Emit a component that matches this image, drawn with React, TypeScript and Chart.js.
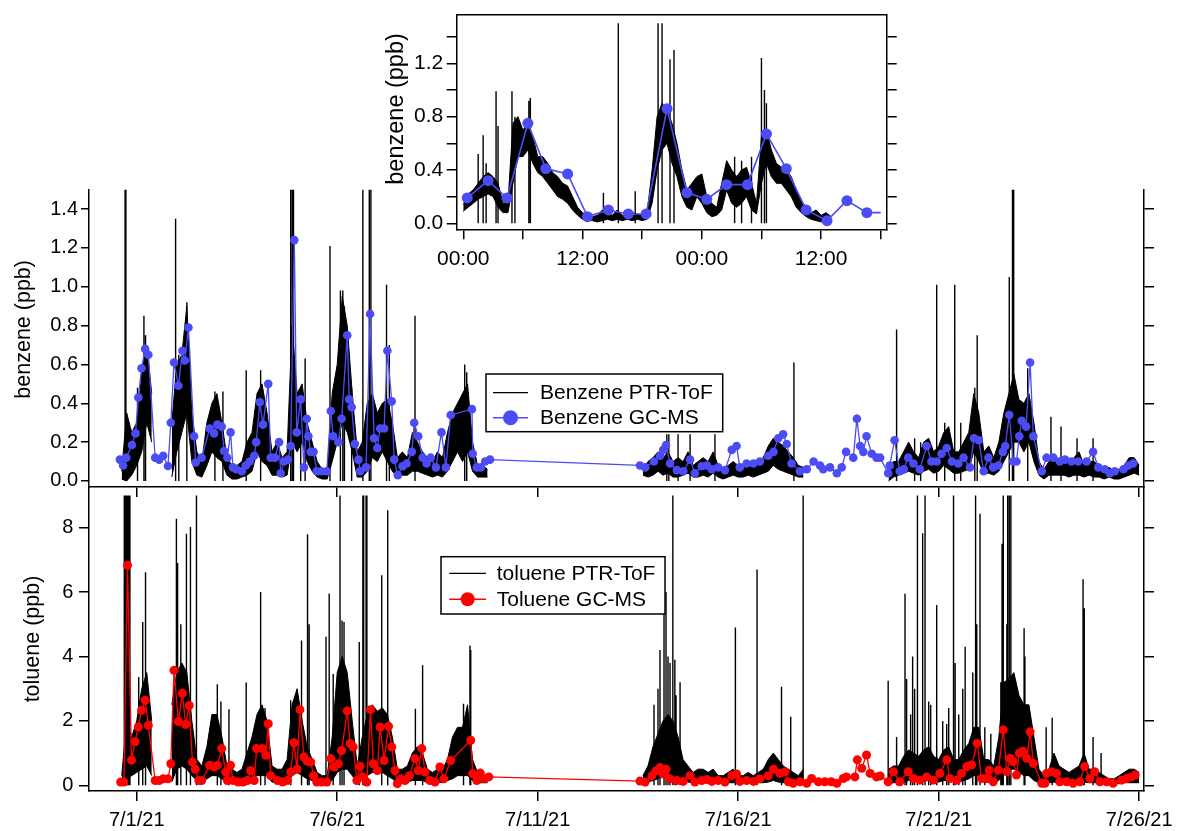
import React, { useEffect, useRef } from 'react';
import { Chart, registerables } from 'chart.js';

Chart.register(...registerables);

const FONT = '"Liberation Sans", Arial, Helvetica, sans-serif';

// ---------- axes / labels ----------
const dateTickDays = [0, 5, 10, 15, 20, 25];
const dateTickLabels = ['7/1/21', '7/6/21', '7/11/21', '7/16/21', '7/21/21', '7/26/21'];
const benzTicks = [0, 0.2, 0.4, 0.6, 0.8, 1.0, 1.2, 1.4];
const tolTicks = [0, 2, 4, 6, 8];
const insetYTicks = [0, 0.2, 0.4, 0.6, 0.8, 1.0, 1.2, 1.4];
const insetYLabelled = [0, 0.4, 0.8, 1.2];
const insetHourTicks = [0, 6, 12, 18, 24, 30, 36, 42];
const insetHourLabelAt = [0, 12, 24, 36];
const insetHourLabelText = ['00:00', '12:00', '00:00', '12:00'];

const benzTitle = 'benzene (ppb)';
const tolTitle = 'toluene (ppb)';
const benzLegend = ['Benzene PTR-ToF', 'Benzene GC-MS'];
const tolLegend = ['toluene PTR-ToF', 'Toluene GC-MS'];

// ---------- PTR-ToF envelopes (3 h bins, days since 7/1/21 00:00) ----------
const PTR_STEP = 0.125;
const SEG_A_START = -0.375;
const SEG_B_START = 12.625;

const benzLowA = [0.01,0,0.03,0.08,0.15,0.3,0.2,null,null,null,
  0.02,0.15,0.25,0.35,0.1,0.03,0.02,0.08,0.15,0.12,
  0.1,0.03,0.01,0.01,0.02,0.03,0.05,0.15,0.1,0.08,
  0.03,0.03,0.02,0.03,0.2,0.15,0.2,0.1,0.05,0.02,
  0.01,0.01,0.1,0.2,0.3,0.25,0.15,0.02,0.02,0.05,
  0.12,0.1,0.15,0.1,0.05,0.02,0.03,0.03,0.05,0.05,
  0.04,0.03,0.02,0.03,0.02,0.05,0.1,0.15,0.1,0.15,
  0.05,0.02,0.02,0.02];
const benzHighA = [0.05,0.35,0.25,0.3,0.55,0.7,0.45,null,null,null,
  0.3,0.6,0.65,0.9,0.35,0.15,0.1,0.3,0.4,0.45,
  0.3,0.12,0.08,0.08,0.1,0.2,0.25,0.45,0.5,0.35,
  0.15,0.2,0.12,0.15,0.8,0.45,0.5,0.3,0.2,0.1,
  0.06,0.05,0.45,0.6,0.95,0.8,0.45,0.15,0.2,0.4,
  0.45,0.35,0.4,0.42,0.3,0.12,0.15,0.12,0.25,0.2,
  0.15,0.12,0.1,0.15,0.12,0.25,0.35,0.4,0.45,0.5,
  0.2,0.08,0.08,0.06];
const benzLowB = [0.03,0.02,0.03,0.05,0.03,0.04,0.02,0.02,0.03,0.04,
  0.02,0.02,0.03,0.02,0.04,0.02,0.01,0.02,0.03,0.02,
  0.02,0.03,0.02,0.03,0.04,0.05,0.08,0.06,0.05,0.04,
  0.03,0.02,0.02,
  null,null,null,null,null,null,null,null,null,null,null,null,null,null,null,null,
  0,0.02,0.03,0.04,0.05,0.04,0.03,0.05,0.06,0.04,
  0.05,0.08,0.06,0.04,0.04,0.05,0.06,0.15,0.1,0.04,
  0.04,0.03,0.05,0.1,0.15,0.2,0.2,0.15,0.2,0.1,
  0.03,0.01,0.03,0.03,0.03,0.03,0.02,0.03,0.03,0.02,
  0.03,0.02,0.02,0.01,0.02,0.01,0.01,0.02,0.03,0.04,0.03];
const benzHighB = [0.06,0.1,0.12,0.15,0.12,0.15,0.1,0.12,0.1,0.15,
  0.08,0.1,0.12,0.1,0.15,0.08,0.06,0.08,0.1,0.08,
  0.07,0.08,0.08,0.1,0.12,0.18,0.22,0.2,0.18,0.15,
  0.12,0.08,0.07,
  null,null,null,null,null,null,null,null,null,null,null,null,null,null,null,null,
  0.08,0.1,0.1,0.15,0.2,0.15,0.12,0.2,0.22,0.15,
  0.18,0.25,0.28,0.15,0.15,0.2,0.25,0.45,0.35,0.15,
  0.18,0.12,0.2,0.35,0.45,0.55,0.42,0.4,0.45,0.3,
  0.1,0.06,0.1,0.12,0.1,0.12,0.09,0.12,0.15,0.08,
  0.1,0.1,0.08,0.06,0.07,0.05,0.06,0.08,0.12,0.12,0.08];

const tolLowA = [0.1,0.2,0.3,0.4,0.5,0.6,0.3,null,null,null,
  0.1,0.5,0.6,0.5,0.3,0.15,0.1,0.2,0.3,0.3,
  0.2,0.1,0.08,0.08,0.1,0.15,0.2,0.3,0.3,0.3,
  0.1,0.08,0.08,0.1,0.3,0.4,0.3,0.2,0.15,0.08,
  0.08,0.08,0.15,0.4,0.5,0.5,0.3,0.1,0.15,0.3,
  0.4,0.4,0.4,0.3,0.2,0.08,0.08,0.1,0.15,0.15,
  0.15,0.08,0.08,0.1,0.08,0.15,0.2,0.3,0.3,0.3,
  0.15,0.08,0.08,0.08];
const tolHighA = [0.3,2.0,1.5,2.0,3.0,3.5,2.0,null,null,null,
  2.5,3.5,3.8,3.5,2.0,0.8,0.6,1.2,2.2,2.2,
  1.5,0.6,0.5,0.4,0.5,1.0,1.5,2.2,2.5,2.0,
  0.6,0.5,0.5,0.8,2.5,3.0,2.0,1.2,0.8,0.4,
  0.3,0.3,1.5,3.5,4.0,3.5,2.0,0.6,1.5,2.2,
  2.5,2.3,2.4,2.2,1.5,0.5,0.5,0.6,1.0,1.2,
  1.0,0.5,0.4,0.5,0.5,0.8,1.5,1.8,1.8,2.5,
  0.8,0.4,0.3,0.3];
const tolLowB = [0.1,0.1,0.15,0.2,0.3,0.4,0.3,0.2,0.15,0.1,
  0.08,0.08,0.08,0.08,0.08,0.08,0.05,0.08,0.08,0.08,
  0.05,0.08,0.08,0.08,0.08,0.1,0.15,0.1,0.08,0.08,
  0.05,0.05,0.05,
  null,null,null,null,null,null,null,null,null,null,null,null,null,null,null,null,
  0.05,0.08,0.08,0.1,0.15,0.15,0.1,0.15,0.15,0.1,
  0.1,0.15,0.15,0.1,0.1,0.15,0.2,0.3,0.3,0.1,
  0.1,0.08,0.15,0.4,0.5,0.5,0.4,0.3,0.3,0.15,
  0.08,0.05,0.08,0.1,0.08,0.08,0.08,0.08,0.08,0.1,
  0.08,0.08,0.08,0.05,0.05,0.05,0.05,0.08,0.08,0.08,0.08];
const tolHighB = [0.3,0.6,1.2,1.6,2.0,2.2,2.0,1.5,0.8,0.6,
  0.4,0.5,0.5,0.4,0.5,0.3,0.3,0.4,0.5,0.3,
  0.3,0.4,0.3,0.4,0.5,0.8,1.0,0.8,0.6,0.5,
  0.4,0.3,0.5,
  null,null,null,null,null,null,null,null,null,null,null,null,null,null,null,null,
  0.5,0.6,0.6,0.9,1.1,1.0,0.9,1.1,1.2,0.9,
  0.8,1.1,1.2,0.8,0.8,1.1,1.3,1.8,1.8,0.8,
  0.8,0.6,1.5,3.2,3.3,3.5,2.8,2.5,2.5,1.5,
  0.5,0.3,0.5,1.0,0.6,0.5,0.4,0.5,0.6,1.0,
  0.5,0.5,0.4,0.3,0.2,0.2,0.3,0.4,0.5,0.5,0.4];

// ---------- PTR-ToF spikes [day, peak] ----------
const benzSpikes = [[-0.29,1.5],[-0.27,1.5],[0.02,0.48],[0.18,0.85],[0.22,0.75],[0.97,1.35],[1.05,0.65],[1.25,0.92],
  [1.95,0.46],[2.15,0.46],[2.73,0.57],[3.09,0.57],[3.84,1.5],[3.88,1.5],[3.91,1.5],[4.09,0.48],[4.2,0.63],
  [4.82,1.21],[5.08,0.98],[5.14,0.98],[5.18,0.9],[5.36,0.48],[5.64,1.5],[5.8,1.5],[5.84,1.5],[6.23,1.01],
  [6.3,0.7],[6.94,0.85],[8.18,0.6],[8.23,0.56],
  [13.22,0.24],[13.27,0.24],[13.5,0.24],[13.8,0.24],[14.42,0.24],[16.39,0.61],[18.95,0.78],[19.4,0.22],
  [19.55,0.2],[19.95,1.01],[20.15,0.3],[20.4,1.01],[20.55,0.3],[20.9,0.48],[20.96,0.75],[21.76,1.05],
  [21.84,1.5],[21.87,1.5],[22.22,0.58],[22.8,0.33],[23.05,0.28],[23.45,0.22],[23.85,0.22]];
const tolSpikes = [[-0.31,9],[-0.29,9],[-0.27,9],[-0.25,9],[-0.23,9],[-0.21,9],[-0.19,9],[-0.17,9],
  [0.05,3.36],[0.15,5.07],[0.22,6.62],[0.99,8.28],[1.02,6.9],[1.1,5.0],[1.24,7.81],[1.34,8.02],[1.49,9],
  [2.01,3.14],[2.1,2.6],[2.3,2.36],[2.73,3.19],[3.09,6.0],[3.2,2.4],[3.84,2.64],[4.11,4.5],[4.26,7.8],
  [4.3,5.0],[4.72,4.61],[4.8,5.96],[4.9,3.46],[5.07,9],[5.12,5.12],[5.17,5.07],[5.55,4.45],[5.64,9],
  [5.66,9],[5.72,9],[5.74,9],[6.11,6.52],[6.26,8.54],[6.95,2.38],[7.13,3.73],[8.15,2.53],[8.31,4.34],[8.33,4.2],
  [12.9,2.5],[13.0,3.0],[13.05,4.2],[13.15,5.7],[13.2,6.0],[13.25,4.0],[13.3,3.8],[13.37,9],[13.42,3.9],
  [13.45,2.8],[13.55,3.2],[14.93,4.9],[15.47,6.7],[16.08,3.06],
  [16.31,2.13],[16.62,9],[18.74,3.25],[18.95,1.5],[19.16,5.95],[19.2,3.3],[19.3,2.2],[19.35,4.0],[19.4,3.0],
  [19.47,9],[19.6,7.83],[19.66,9],[19.75,2.6],[19.8,2.5],[19.95,5.6],[20.1,2.0],[20.2,1.9],[20.25,2.4],
  [20.37,9],[20.41,3.8],[20.5,2.2],[20.6,3.0],[20.66,4.3],[20.85,3.5],[20.92,9],[20.95,5.0],[21.03,8.43],
  [21.15,1.8],[21.3,1.6],[21.55,3.2],[21.58,7.5],[21.61,9],[21.7,5.0],[21.72,9],[21.76,9],[21.8,9],[22.13,4.88],
  [22.15,4.0],[22.68,1.8],[22.83,2.1],[23.6,6.4],[23.63,5.5],[23.85,1.5],[24.05,1.0]];

// ---------- GC-MS samples [day, ppb] ----------
const benzGc = [[-0.42,0.11],[-0.34,0.08],[-0.26,0.12],[-0.12,0.185],[-0.03,0.245],[0.04,0.43],[0.12,0.58],
  [0.21,0.68],[0.29,0.65],[0.46,0.12],[0.56,0.11],[0.66,0.13],[0.78,0.077],[0.85,0.3],[0.93,0.61],[1.04,0.49],
  [1.14,0.67],[1.2,0.62],[1.29,0.79],[1.43,0.23],[1.47,0.095],[1.62,0.12],[1.82,0.27],[1.93,0.245],[2.01,0.29],
  [2.12,0.28],[2.18,0.154],[2.26,0.12],[2.34,0.25],[2.4,0.07],[2.48,0.06],[2.62,0.05],[2.72,0.08],[2.82,0.1],
  [2.93,0.13],[2.98,0.2],[3.07,0.405],[3.15,0.29],[3.28,0.5],[3.34,0.12],[3.45,0.12],[3.55,0.2],[3.59,0.04],
  [3.67,0.1],[3.77,0.11],[3.84,0.18],[3.93,1.24],[3.99,0.25],[4.09,0.42],[4.17,0.07],[4.24,0.32],[4.28,0.23],
  [4.34,0.15],[4.41,0.15],[4.49,0.05],[4.61,0.05],[4.74,0.05],[4.84,0.36],[4.9,0.23],[5.03,0.2],[5.11,0.32],
  [5.25,0.75],[5.3,0.42],[5.36,0.38],[5.44,0.19],[5.53,0.11],[5.57,0.05],[5.72,0.07],[5.82,0.86],[5.92,0.22],
  [6.0,0.17],[6.07,0.27],[6.17,0.27],[6.25,0.67],[6.36,0.41],[6.42,0.11],[6.51,0.03],[6.63,0.076],[6.73,0.09],
  [6.86,0.15],[6.92,0.3],[7.02,0.23],[7.13,0.12],[7.23,0.09],[7.33,0.12],[7.46,0.07],[7.6,0.25],[7.71,0.07],
  [7.83,0.34],[8.36,0.37],[8.38,0.14],[8.48,0.07],[8.58,0.07],[8.69,0.1],[8.81,0.11],
  [12.55,0.08],[12.68,0.07],[12.9,0.1],[13.05,0.13],[13.13,0.16],[13.2,0.185],[13.3,0.09],[13.47,0.056],
  [13.63,0.05],[13.8,0.11],[13.92,0.04],[14.09,0.076],[14.22,0.08],[14.34,0.06],[14.5,0.07],[14.67,0.056],
  [14.84,0.16],[14.96,0.18],[15.04,0.07],[15.21,0.09],[15.38,0.09],[15.54,0.1],[15.75,0.13],[15.88,0.15],
  [16.0,0.22],[16.12,0.24],[16.21,0.19],[16.33,0.09],[16.54,0.05],[16.71,0.06],[16.88,0.1],[17.04,0.08],
  [17.12,0.06],[17.29,0.07],[17.46,0.04],[17.58,0.07],[17.69,0.15],[17.87,0.12],[17.96,0.32],[18.04,0.18],
  [18.12,0.15],[18.2,0.23],[18.33,0.14],[18.45,0.12],[18.54,0.12],[18.74,0.04],[18.78,0.08],[18.9,0.21],
  [19.03,0.05],[19.13,0.06],[19.24,0.12],[19.37,0.09],[19.53,0.06],[19.7,0.18],[19.82,0.1],[19.95,0.1],
  [20.07,0.14],[20.2,0.17],[20.33,0.1],[20.49,0.09],[20.62,0.12],[20.78,0.07],[20.88,0.22],[21.0,0.21],
  [21.12,0.05],[21.24,0.12],[21.36,0.07],[21.49,0.08],[21.6,0.15],[21.66,0.18],[21.76,0.34],[21.86,0.1],
  [21.94,0.1],[22.01,0.23],[22.07,0.31],[22.18,0.28],[22.28,0.61],[22.36,0.23],[22.57,0.05],[22.69,0.12],
  [22.86,0.12],[23.02,0.1],[23.15,0.11],[23.31,0.1],[23.48,0.1],[23.69,0.1],[23.85,0.15],[23.98,0.07],
  [24.14,0.06],[24.27,0.04],[24.39,0.05],[24.61,0.06],[24.73,0.08],[24.85,0.09]];
const tolGc = [[-0.4,0.1],[-0.32,0.1],[-0.23,6.83],[-0.13,0.78],[-0.04,1.35],[0.04,1.81],[0.12,2.33],[0.21,2.64],
  [0.29,1.86],[0.46,0.15],[0.56,0.15],[0.66,0.2],[0.78,0.2],[0.85,0.67],[0.93,3.57],[1.04,1.98],[1.14,2.86],
  [1.22,1.89],[1.31,2.48],[1.39,0.72],[1.46,0.5],[1.55,0.15],[1.62,0.15],[1.82,0.62],[1.93,0.57],[2.01,0.62],
  [2.12,1.14],[2.22,0.41],[2.26,0.15],[2.34,0.62],[2.4,0.15],[2.53,0.1],[2.65,0.1],[2.76,0.15],[2.84,0.46],
  [2.93,0.15],[2.99,1.14],[3.13,1.14],[3.22,0.93],[3.28,1.91],[3.34,0.3],[3.51,0.15],[3.64,0.1],[3.76,0.15],
  [3.84,0.41],[3.92,1.32],[4.0,0.5],[4.07,2.35],[4.17,0.88],[4.25,0.75],[4.34,0.72],[4.41,0.3],[4.49,0.1],
  [4.61,0.1],[4.74,0.1],[4.84,0.83],[4.92,0.57],[5.03,0.67],[5.11,1.08],[5.25,2.31],[5.32,1.3],[5.4,1.19],
  [5.49,0.15],[5.57,0.59],[5.64,0.26],[5.74,0.1],[5.83,2.35],[5.9,0.67],[6.0,0.46],[6.07,1.81],[6.17,0.77],
  [6.28,1.83],[6.36,1.19],[6.44,0.46],[6.5,0.05],[6.59,0.2],[6.69,0.15],[6.8,0.3],[6.94,0.83],[7.02,0.46],
  [7.11,1.14],[7.19,0.41],[7.31,0.15],[7.44,0.1],[7.56,0.57],[7.66,0.2],[7.83,0.77],[8.33,1.4],[8.38,0.36],
  [8.48,0.15],[8.57,0.38],[8.67,0.2],[8.78,0.26],
  [12.55,0.13],[12.68,0.1],[12.85,0.3],[12.95,0.45],[13.05,0.55],[13.13,0.35],[13.2,0.5],[13.3,0.2],
  [13.47,0.15],[13.63,0.12],[13.8,0.3],[13.92,0.1],[14.09,0.15],[14.22,0.18],[14.34,0.12],[14.5,0.15],
  [14.67,0.1],[14.84,0.3],[14.96,0.35],[15.04,0.12],[15.21,0.15],[15.38,0.12],[15.54,0.2],[15.75,0.3],
  [15.88,0.5],[16.04,0.37],[16.17,0.42],[16.25,0.11],[16.37,0.06],[16.54,0.11],[16.71,0.06],[16.83,0.21],
  [17.0,0.11],[17.16,0.11],[17.32,0.11],[17.46,0.06],[17.62,0.21],[17.7,0.26],[17.91,0.26],[17.97,0.79],
  [18.08,0.53],[18.2,0.94],[18.29,0.37],[18.45,0.26],[18.54,0.29],[18.74,0.11],[18.87,0.42],[19.03,0.11],
  [19.24,0.42],[19.37,0.21],[19.53,0.16],[19.7,0.26],[19.87,0.16],[20.03,0.37],[20.2,0.79],[20.28,0.21],
  [20.45,0.16],[20.57,0.37],[20.7,0.58],[20.82,0.63],[20.96,1.3],[21.07,0.21],[21.2,0.21],[21.26,0.47],
  [21.36,0.11],[21.49,0.47],[21.61,1.72],[21.7,0.42],[21.78,0.84],[21.86,0.74],[21.94,0.32],[22.01,1.0],
  [22.1,1.06],[22.2,0.84],[22.28,1.66],[22.36,0.68],[22.57,0.06],[22.65,0.06],[22.69,0.37],[22.81,0.42],
  [22.94,0.37],[23.02,0.11],[23.19,0.11],[23.35,0.06],[23.52,0.11],[23.64,0.58],[23.77,0.21],[23.89,0.42],
  [24.02,0.11],[24.19,0.11],[24.35,0.06],[24.56,0.16],[24.69,0.21],[24.81,0.26],[24.9,0.32]];

// ---------- inset (hours, 0.5 h bins) ----------
const INSET_STEP = 0.5;
const insetLow = [0.09,0.12,0.15,0.18,0.2,0.22,0.2,0.12,0.08,0.08,
  0.3,0.5,0.5,0.55,0.45,0.38,0.35,0.3,0.25,0.2,
  0.18,0.15,0.1,0.06,0.03,0.02,0.02,0.01,0.02,0.03,
  0.02,0.03,0.02,0.03,0.02,0.03,0.02,0.03,0.15,0.4,
  0.55,0.6,0.45,0.35,0.2,0.12,0.1,0.2,0.15,0.08,
  0.05,0.06,0.1,0.25,0.15,0.12,0.15,0.2,0.1,0.07,
  0.3,0.45,0.35,0.3,0.3,0.25,0.2,0.12,0.08,0.05,
  0.03,0.02,0.01,0.03,0.02];
const insetHigh = [0.14,0.22,0.25,0.3,0.35,0.38,0.35,0.3,0.15,0.16,
  0.75,0.8,0.7,0.75,0.65,0.5,0.5,0.45,0.38,0.35,
  0.3,0.28,0.2,0.12,0.08,0.06,0.05,0.06,0.1,0.08,
  0.06,0.1,0.06,0.07,0.08,0.07,0.06,0.08,0.4,0.8,
  0.9,0.85,0.75,0.6,0.4,0.25,0.3,0.35,0.37,0.2,
  0.15,0.12,0.3,0.47,0.4,0.35,0.4,0.42,0.3,0.15,
  0.65,0.7,0.55,0.45,0.42,0.4,0.35,0.25,0.17,0.12,
  0.08,0.1,0.06,0.08,0.05];
const insetSpikes = [[1.5,0.52],[2.0,0.66],[2.3,0.45],[3.3,0.99],[3.5,0.73],[4.9,0.99],[5.2,0.8],[6.6,0.92],
  [6.75,0.94],[14.1,0.23],[15.6,1.5],[17.3,0.24],[19.6,1.5],[20.0,1.5],[20.8,1.23],[21.2,1.3],[27.3,0.5],
  [28.0,0.47],[29.0,0.5],[30.0,1.24],[30.3,1.0],[30.5,0.9]];
const insetGc = [[0.4,0.19],[2.5,0.32],[4.4,0.19],[6.5,0.75],[8.3,0.41],[10.5,0.37],[12.5,0.05],[14.6,0.1],
  [16.6,0.07],[18.4,0.07],[20.5,0.86],[22.5,0.23],[24.5,0.18],[26.5,0.29],[28.6,0.29],[30.5,0.67],
  [32.5,0.41],[34.5,0.1],[36.6,0.02],[38.6,0.17],[40.6,0.08],[42.0,0.08]];

// ---------- styling ----------
const BLUE = 'rgb(76,76,246)';
const RED = 'rgb(255,0,0)';
const BLACK = '#000';

// ---------- helpers ----------
const band = (start: number, step: number, arr: (number | null)[]) =>
  arr.map((v, i) => ({ x: start + i * step, y: v }));
const spikes = (list: number[][]) => {
  const out: any[] = [];
  list.forEach(([x, p]) => { out.push({ x, y: 0 }, { x, y: p }, { x, y: null }); });
  return out;
};
const pts = (list: number[][]) => list.map(([x, y]) => ({ x, y }));

const lineDs = (data: any[], extra: any = {}) => ({
  type: 'line', data, borderColor: BLACK, borderWidth: 1, pointRadius: 0, fill: false,
  spanGaps: false, tension: 0, ...extra,
});

const tickGrid = (len: number) => ({
  display: true, drawOnChartArea: false, drawTicks: true, tickLength: len, color: BLACK, lineWidth: 1.5,
});
const border = { display: true, color: BLACK, width: 1.5 };
const setTicks = (vals: number[]) => (s: any) => { s.ticks = vals.map((v) => ({ value: v })); };
const setSize = (dim: 'width' | 'height', size: number) => (s: any) => {
  s[dim] = size; s.paddingTop = 0; s.paddingBottom = 0; s.paddingLeft = 0; s.paddingRight = 0;
};

function legendPlugin(id: string, box: any, rows: any[]) {
  return {
    id,
    afterDraw(chart: any) {
      const ctx = chart.ctx;
      ctx.save();
      ctx.fillStyle = '#fff';
      ctx.fillRect(box.x, box.y, box.w, box.h);
      ctx.strokeStyle = BLACK;
      ctx.lineWidth = 1.5;
      ctx.strokeRect(box.x, box.y, box.w, box.h);
      rows.forEach((r) => {
        ctx.strokeStyle = r.color;
        ctx.lineWidth = r.lw;
        ctx.beginPath();
        ctx.moveTo(box.l0, r.y);
        ctx.lineTo(box.l1, r.y);
        ctx.stroke();
        if (r.marker) {
          ctx.fillStyle = r.color;
          ctx.beginPath();
          ctx.arc((box.l0 + box.l1) / 2, r.y, r.marker, 0, Math.PI * 2);
          ctx.fill();
        }
        ctx.fillStyle = BLACK;
        ctx.font = `21px ${FONT}`;
        ctx.textBaseline = 'middle';
        ctx.textAlign = 'left';
        ctx.fillText(r.text, box.tx, r.y + 1);
      });
      ctx.restore();
    },
  };
}

const X_MIN = -1.19;
const X_MAX = 25.12;

export default function App() {
  const benzRef = useRef<HTMLCanvasElement>(null);
  const tolRef = useRef<HTMLCanvasElement>(null);
  const insetRef = useRef<HTMLCanvasElement>(null);

  useEffect(() => {
    Chart.defaults.font.family = FONT;
    Chart.defaults.color = BLACK;
    const common = {
      animation: false, responsive: false, devicePixelRatio: 1, events: [],
      plugins: { legend: { display: false }, tooltip: { enabled: false } },
    };
    const spikeStyle = { borderWidth: 1.4 };

    const tol = new Chart(tolRef.current!, {
      type: 'line',
      data: {
        datasets: [
          lineDs(pts(tolGc), { borderColor: RED, borderWidth: 1.3, pointRadius: 4.5, pointBackgroundColor: RED, pointBorderWidth: 0 }),
          lineDs(spikes(tolSpikes), spikeStyle),
          lineDs(band(SEG_A_START, PTR_STEP, tolLowA)),
          lineDs(band(SEG_A_START, PTR_STEP, tolHighA), { fill: '-1', backgroundColor: BLACK }),
          lineDs(band(SEG_B_START, PTR_STEP, tolLowB)),
          lineDs(band(SEG_B_START, PTR_STEP, tolHighB), { fill: '-1', backgroundColor: BLACK }),
        ] as any,
      },
      options: {
        ...common,
        layout: { padding: { top: 47, left: 0, right: 0, bottom: 0 } },
        scales: {
          x: {
            type: 'linear', min: X_MIN, max: X_MAX, position: 'bottom',
            afterBuildTicks: setTicks(dateTickDays),
            afterFit: setSize('height', 40),
            ticks: {
              font: { size: 20 }, color: BLACK, padding: 7, maxRotation: 0, autoSkip: false,
              callback: (v: any) => dateTickLabels[dateTickDays.indexOf(v)] ?? '',
            },
            grid: tickGrid(10), border,
          },
          y: {
            type: 'linear', min: -0.177, max: 9.264, position: 'left',
            afterBuildTicks: setTicks(tolTicks),
            afterFit: setSize('width', 89),
            ticks: { font: { size: 20 }, color: BLACK, padding: 5.7, callback: (v: any) => String(v) },
            grid: tickGrid(10), border,
            title: { display: true, text: tolTitle, font: { size: 21.5 }, color: BLACK, padding: { top: 20.5, bottom: 0 } },
          },
          y2: {
            type: 'linear', min: -0.177, max: 9.264, position: 'right',
            afterBuildTicks: setTicks(tolTicks),
            afterFit: setSize('width', 33),
            ticks: { display: false }, grid: tickGrid(10), border,
          },
        },
      } as any,
      plugins: [legendPlugin('tolLegend', { x: 441, y: 116.7, w: 224, h: 57.3, l0: 449.3, l1: 486, tx: 496.7 }, [
        { text: tolLegend[0], color: BLACK, lw: 1.3, y: 133.3 },
        { text: tolLegend[1], color: RED, lw: 1.5, y: 159.3, marker: 7 },
      ])],
    });

    const benz = new Chart(benzRef.current!, {
      type: 'line',
      data: {
        datasets: [
          lineDs(pts(benzGc), { borderColor: BLUE, borderWidth: 1.3, pointRadius: 4.3, pointBackgroundColor: BLUE, pointBorderWidth: 0 }),
          lineDs(spikes(benzSpikes), spikeStyle),
          lineDs(band(SEG_A_START, PTR_STEP, benzLowA)),
          lineDs(band(SEG_A_START, PTR_STEP, benzHighA), { fill: '-1', backgroundColor: BLACK }),
          lineDs(band(SEG_B_START, PTR_STEP, benzLowB)),
          lineDs(band(SEG_B_START, PTR_STEP, benzHighB), { fill: '-1', backgroundColor: BLACK }),
        ] as any,
      },
      options: {
        ...common,
        layout: { padding: { top: 39.6, left: 0, right: 0, bottom: 0 } },
        scales: {
          x: {
            type: 'linear', min: X_MIN, max: X_MAX, position: 'bottom',
            afterBuildTicks: setTicks(dateTickDays),
            afterFit: setSize('height', 23),
            ticks: { display: false },
            grid: tickGrid(10), border,
          },
          y: {
            type: 'linear', min: -0.031, max: 1.5, position: 'left',
            afterBuildTicks: setTicks(benzTicks),
            afterFit: setSize('width', 89),
            ticks: { font: { size: 20 }, color: BLACK, padding: 3, callback: (v: any) => Number(v).toFixed(1) },
            grid: tickGrid(8), border,
            title: { display: true, text: '   ' + benzTitle, font: { size: 21.5 }, color: BLACK, padding: { top: 11, bottom: 0 } },
          },
          y2: {
            type: 'linear', min: -0.031, max: 1.5, position: 'right',
            afterBuildTicks: setTicks(benzTicks),
            afterFit: setSize('width', 33),
            ticks: { display: false }, grid: tickGrid(10), border,
          },
        },
      } as any,
      plugins: [legendPlugin('benzLegend', { x: 486, y: 224, w: 236.7, h: 57.7, l0: 493, l1: 528, tx: 540 }, [
        { text: benzLegend[0], color: BLACK, lw: 1.3, y: 242.7 },
        { text: benzLegend[1], color: BLUE, lw: 1.5, y: 267.7, marker: 7.5 },
      ])],
    });

    const inset = new Chart(insetRef.current!, {
      type: 'line',
      data: {
        datasets: [
          lineDs(pts(insetGc), {
            borderColor: BLUE, borderWidth: 1.6, pointBackgroundColor: BLUE, pointBorderWidth: 0,
            pointRadius: (c: any) => (c.dataIndex === insetGc.length - 1 ? 0 : 5.5),
          }),
          lineDs(spikes(insetSpikes), spikeStyle),
          lineDs(band(0, INSET_STEP, insetLow)),
          lineDs(band(0, INSET_STEP, insetHigh), { fill: '-1', backgroundColor: BLACK }),
        ] as any,
      },
      options: {
        ...common,
        layout: { padding: { top: 14.7, left: 0, right: 0, bottom: 0 } },
        scales: {
          x: {
            type: 'linear', min: -0.66, max: 42.6, position: 'bottom',
            afterBuildTicks: setTicks(insetHourTicks),
            afterFit: setSize('height', 50.7),
            ticks: {
              font: { size: 21 }, color: BLACK, padding: 7, maxRotation: 0, autoSkip: false,
              callback: (v: any) => { const k = insetHourLabelAt.indexOf(v); return k >= 0 ? insetHourLabelText[k] : ''; },
            },
            grid: tickGrid(10), border,
          },
          x2: {
            type: 'linear', min: -0.66, max: 42.6, position: 'top',
            afterBuildTicks: setTicks([]),
            afterFit: setSize('height', 0),
            ticks: { display: false }, grid: { display: true, drawOnChartArea: false, drawTicks: false }, border,
          },
          y: {
            type: 'linear', min: -0.045, max: 1.5645, position: 'left',
            afterBuildTicks: setTicks(insetYTicks),
            afterFit: setSize('width', 76.7),
            ticks: {
              font: { size: 21 }, color: BLACK, padding: 3.4,
              callback: (v: any) => (insetYLabelled.some((t) => Math.abs(t - v) < 1e-6) ? Number(v).toFixed(1) : ''),
            },
            grid: tickGrid(10), border,
            title: { display: true, text: '    ' + benzTitle, font: { size: 23.5 }, color: BLACK, padding: { top: 2, bottom: 0 } },
          },
          y2: {
            type: 'linear', min: -0.045, max: 1.5645, position: 'right',
            afterBuildTicks: setTicks(insetYTicks),
            afterFit: setSize('width', 23.3),
            ticks: { display: false }, grid: tickGrid(10), border,
          },
        },
      } as any,
    });

    return () => { tol.destroy(); benz.destroy(); inset.destroy(); };
  }, []);

  return (
    <div style={{ position: 'absolute', left: 0, top: 0, width: 1177, height: 831, background: '#fff', overflow: 'hidden' }}>
      <canvas ref={tolRef} width={1177} height={391} style={{ position: 'absolute', left: 0, top: 440, width: 1177, height: 391 }} />
      <canvas ref={benzRef} width={1177} height={360} style={{ position: 'absolute', left: 0, top: 150, width: 1177, height: 360 }} />
      <canvas ref={insetRef} width={530} height={280} style={{ position: 'absolute', left: 380, top: 0, width: 530, height: 280 }} />
    </div>
  );
}
